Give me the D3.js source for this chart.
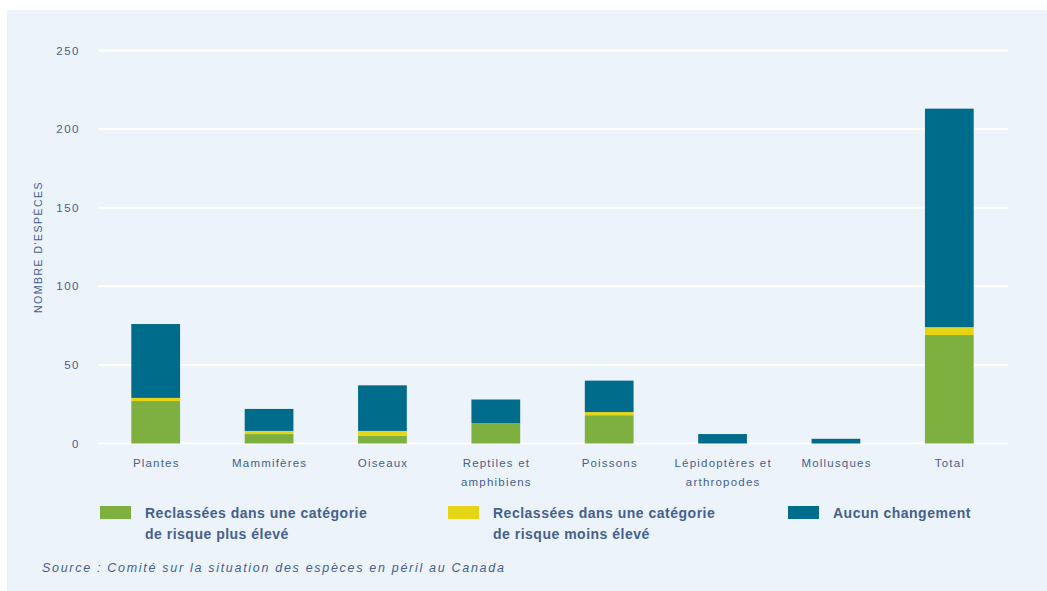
<!DOCTYPE html>
<html lang="fr">
<head>
<meta charset="utf-8">
<script src="https://cdn.jsdelivr.net/npm/d3@7"></script>
<style>
  html, body { margin: 0; padding: 0; background: #ffffff; }
  svg { display: block; }
  text { font-family: "Liberation Sans", Arial, sans-serif; }
</style>
</head>
<body>
<svg id="chart" width="1047" height="591"></svg>
<script>
// Catégories taxonomiques (deux lignes possibles par étiquette)
const categories = [
  ["Plantes"],
  ["Mammifères"],
  ["Oiseaux"],
  ["Reptiles et", "amphibiens"],
  ["Poissons"],
  ["Lépidoptères et", "arthropodes"],
  ["Mollusques"],
  ["Total"]
];

// Nombre d'espèces par type de réévaluation
const plusEleve  = [27, 6, 5, 13, 18, 0, 0, 69];
const moinsEleve = [2, 2, 3, 0, 2, 0, 0, 5];
const aucun      = [47, 14, 29, 15, 20, 6, 3, 139];

const yTicks = [0, 50, 100, 150, 200, 250];

const seriesNames = [
  ["Reclassées dans une catégorie", "de risque plus élevé"],
  ["Reclassées dans une catégorie", "de risque moins élevé"],
  ["Aucun changement"]
];
const seriesColors = ["#7eb040", "#e6d417", "#006c8c"];

const svg = d3.select("#chart");
const W = 1047, H = 591;
const textColor = "#44618f";

// Fond du panneau
svg.append("rect")
  .attr("x", 7).attr("y", 10)
  .attr("width", W - 7).attr("height", H - 10)
  .attr("fill", "#edf3fb");

const x = d3.scaleBand()
  .domain(d3.range(categories.length))
  .range([99, 1006])
  .paddingInner(0.57)
  .paddingOuter(0.285);

const y = d3.scaleLinear().domain([0, 250]).range([443.5, 50.5]);

// Quadrillage
svg.append("g")
  .selectAll("line")
  .data(yTicks)
  .join("line")
  .attr("x1", 98).attr("x2", 1008)
  .attr("y1", d => y(d)).attr("y2", d => y(d))
  .attr("stroke", "#ffffff")
  .attr("stroke-width", 2);

// Étiquettes de l'axe vertical
const yAxis = d3.axisLeft(y).tickValues(yTicks).tickSize(0).tickPadding(0);
const gy = svg.append("g").attr("transform", "translate(80,0)").call(yAxis);
gy.select(".domain").remove();
gy.selectAll("text")
  .attr("fill", textColor)
  .style("font-size", "11.5px")
  .style("letter-spacing", "1.5px")
  .style("font-family", "'Liberation Sans', sans-serif");

svg.append("text")
  .attr("transform", "translate(42,247) rotate(-90)")
  .attr("text-anchor", "middle")
  .attr("fill", textColor)
  .style("font-size", "10.5px")
  .style("letter-spacing", "1.5px")
  .style("font-family", "'Liberation Sans Narrow', 'Liberation Sans', sans-serif")
  .text("NOMBRE D'ESPÈCES");

// Barres empilées
const rows = categories.map((c, i) => ({ i, a: plusEleve[i], b: moinsEleve[i], c: aucun[i] }));
const stack = d3.stack().keys(["a", "b", "c"])(rows);

svg.append("g")
  .selectAll("g")
  .data(stack)
  .join("g")
  .attr("fill", (d, k) => seriesColors[k])
  .selectAll("rect")
  .data(d => d)
  .join("rect")
  .attr("x", d => x(d.data.i))
  .attr("width", x.bandwidth())
  .attr("y", d => y(d[1]))
  .attr("height", d => y(d[0]) - y(d[1]));

// Étiquettes des catégories
const gx = svg.append("g");
categories.forEach((lines, i) => {
  const cx = x(i) + x.bandwidth() / 2 + 0.6;
  const t = gx.append("text")
    .attr("x", cx)
    .attr("y", 467)
    .attr("text-anchor", "middle")
    .attr("fill", textColor)
    .style("font-size", "11.5px")
    .style("letter-spacing", "1.2px");
  lines.forEach((l, j) => {
    t.append("tspan")
      .attr("x", cx)
      .attr("dy", j === 0 ? 0 : 19)
      .text(l);
  });
});

// Légende
const legendX = [100, 448, 788];
const lg = svg.append("g");
seriesNames.forEach((lines, k) => {
  lg.append("rect")
    .attr("x", legendX[k]).attr("y", 506)
    .attr("width", 31).attr("height", 13)
    .attr("fill", seriesColors[k]);
  const t = lg.append("text")
    .attr("x", legendX[k] + 45)
    .attr("y", 518)
    .attr("fill", textColor)
    .style("font-size", "14px")
    .style("font-weight", "bold")
    .style("letter-spacing", "0.5px");
  lines.forEach((l, j) => {
    t.append("tspan")
      .attr("x", legendX[k] + 45)
      .attr("dy", j === 0 ? 0 : 21)
      .text(l);
  });
});

// Source
svg.append("text")
  .attr("x", 42).attr("y", 572)
  .attr("fill", textColor)
  .style("font-size", "12.5px")
  .style("font-style", "italic")
  .style("letter-spacing", "1.7px")
  .text("Source : Comité sur la situation des espèces en péril au Canada");
</script>
</body>
</html>
